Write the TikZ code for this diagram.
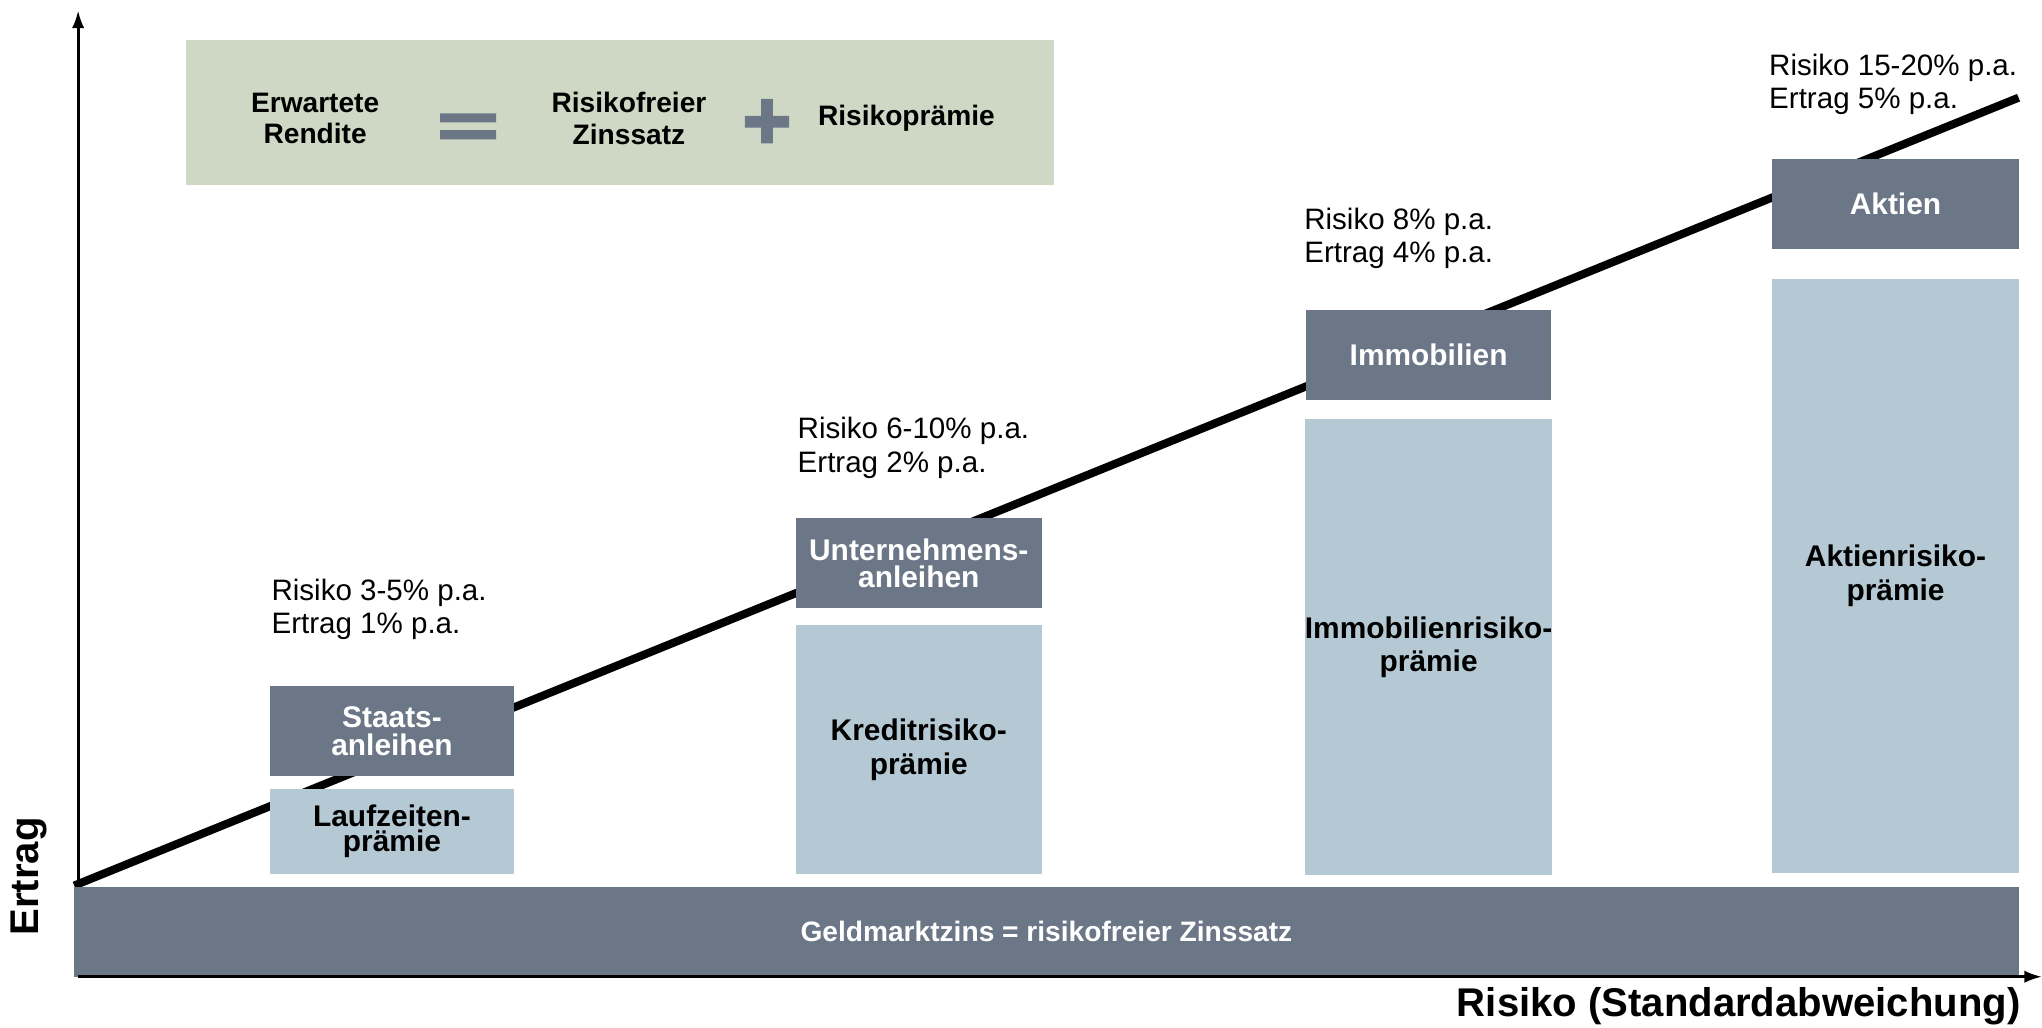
\documentclass[tikz,border=0pt]{standalone}
\usepackage{fontspec}
\setmainfont{Liberation Sans}
\usetikzlibrary{arrows.meta}
\definecolor{slatecolor}{RGB}{107,119,135}
\definecolor{premiumcolor}{RGB}{181,201,212}
\definecolor{legendcolor}{RGB}{207,216,196}
\newcommand{\pxlen}{0.013023cm}

\begin{document}
\begin{tikzpicture}[x=\pxlen, y=-\pxlen,
    assetbox/.style={fill=slatecolor, text=white, font=\bfseries\fontsize{8.5}{7.6}\selectfont,
      align=center, minimum width=189*\pxlen, minimum height=69*\pxlen, inner sep=0pt},
    premiumbox/.style={fill=premiumcolor, text=black, font=\bfseries\fontsize{8.5}{9.6}\selectfont,
      align=center, minimum width=189*\pxlen, inner sep=0pt},
    infotext/.style={anchor=north west, inner sep=0pt, align=left, font=\fontsize{8.4}{9.45}\selectfont},
    legendtext/.style={font=\bfseries\fontsize{8}{8.9}\selectfont, align=center, inner sep=0pt},
    axislabel/.style={font=\bfseries\fontsize{11.4}{13}\selectfont, inner sep=0pt}]
  \useasboundingbox (0,0) rectangle (1568,789);
  % Rendite = risikofreier Zins + Risikoprämie
  \coordinate (origin) at (60,750);
  \coordinate (ytop) at (60,8);
  \coordinate (xend) at (1568,750);
  \coordinate (trendstart) at (57,680);
  \coordinate (trendend) at (1550,75);
  \draw[line width=0.8pt, -{Latex[length=5pt,width=3.5pt]}] (origin) -- (ytop);
  \draw[line width=2.3pt] (trendstart) -- (trendend);

  \node[legendtext, fill=legendcolor, minimum width=666*\pxlen, minimum height=111*\pxlen] (legend) at (476,86.5) {};
  \node[legendtext] (erwartet) at (242,91) {Erwartete\\Rendite};
  \fill[slatecolor] (338,87) rectangle (381,94) (338,100) rectangle (381,107);
  \node[legendtext] (zinssatz) at (483,91) {Risikofreier\\Zinssatz};
  \fill[slatecolor] (572,89) rectangle (606,98) (584.5,76) rectangle (593.5,110);
  \node[legendtext] (praemie) at (696,91) {Risikoprämie};

  \node[assetbox, font=\bfseries\fontsize{8.5}{7.8}\selectfont, minimum width=188*\pxlen] (staats) at (301,561.5) {Staats-\\anleihen};
  \node[premiumbox, font=\bfseries\fontsize{8.5}{7.2}\selectfont, minimum width=188*\pxlen, minimum height=65*\pxlen] (laufzeit) at (301,638.5) {Laufzeiten-\\prämie};
  \node[assetbox] (unternehmen) at (705.5,432.5) {Unternehmens-\\anleihen};
  \node[premiumbox, minimum height=191*\pxlen] (kredit) at (705.5,575.5) {Kreditrisiko-\\prämie};
  \node[assetbox, minimum width=188*\pxlen] (immobilien) at (1097,272.5) {Immobilien};
  \node[premiumbox, minimum width=188*\pxlen, minimum height=350*\pxlen] (immopraemie) at (1097,497) {Immobilienrisiko-\\prämie};
  \node[assetbox] (aktien) at (1455.5,156.5) {Aktien};
  \node[premiumbox, minimum height=456*\pxlen] (aktienpraemie) at (1455.5,442) {Aktienrisiko-\\prämie};

  \node[infotext] (infostaats) at (208,444) {Risiko 3-5\% p.a.\\Ertrag 1\% p.a.};
  \node[infotext] (infounternehmen) at (612,320) {Risiko 6-10\% p.a.\\Ertrag 2\% p.a.};
  \node[infotext] (infoimmobilien) at (1001,159) {Risiko 8\% p.a.\\Ertrag 4\% p.a.};
  \node[infotext] (infoaktien) at (1358,41) {Risiko 15-20\% p.a.\\Ertrag 5\% p.a.};

  \node[fill=slatecolor, text=white, font=\bfseries\fontsize{8}{9}\selectfont, inner sep=0pt,
    minimum width=1493*\pxlen, minimum height=69*\pxlen] (geldmarkt) at (803.5,715.5) {Geldmarktzins = risikofreier Zinssatz};
  \draw[line width=0.8pt, -{Latex[length=5pt,width=3.5pt]}] (origin) -- (xend);

  \node[axislabel, rotate=90] (ertrag) at (22,673) {Ertrag};
  \node[axislabel, anchor=east] (risiko) at (1552,773) {Risiko (Standardabweichung)};
\end{tikzpicture}
\end{document}
